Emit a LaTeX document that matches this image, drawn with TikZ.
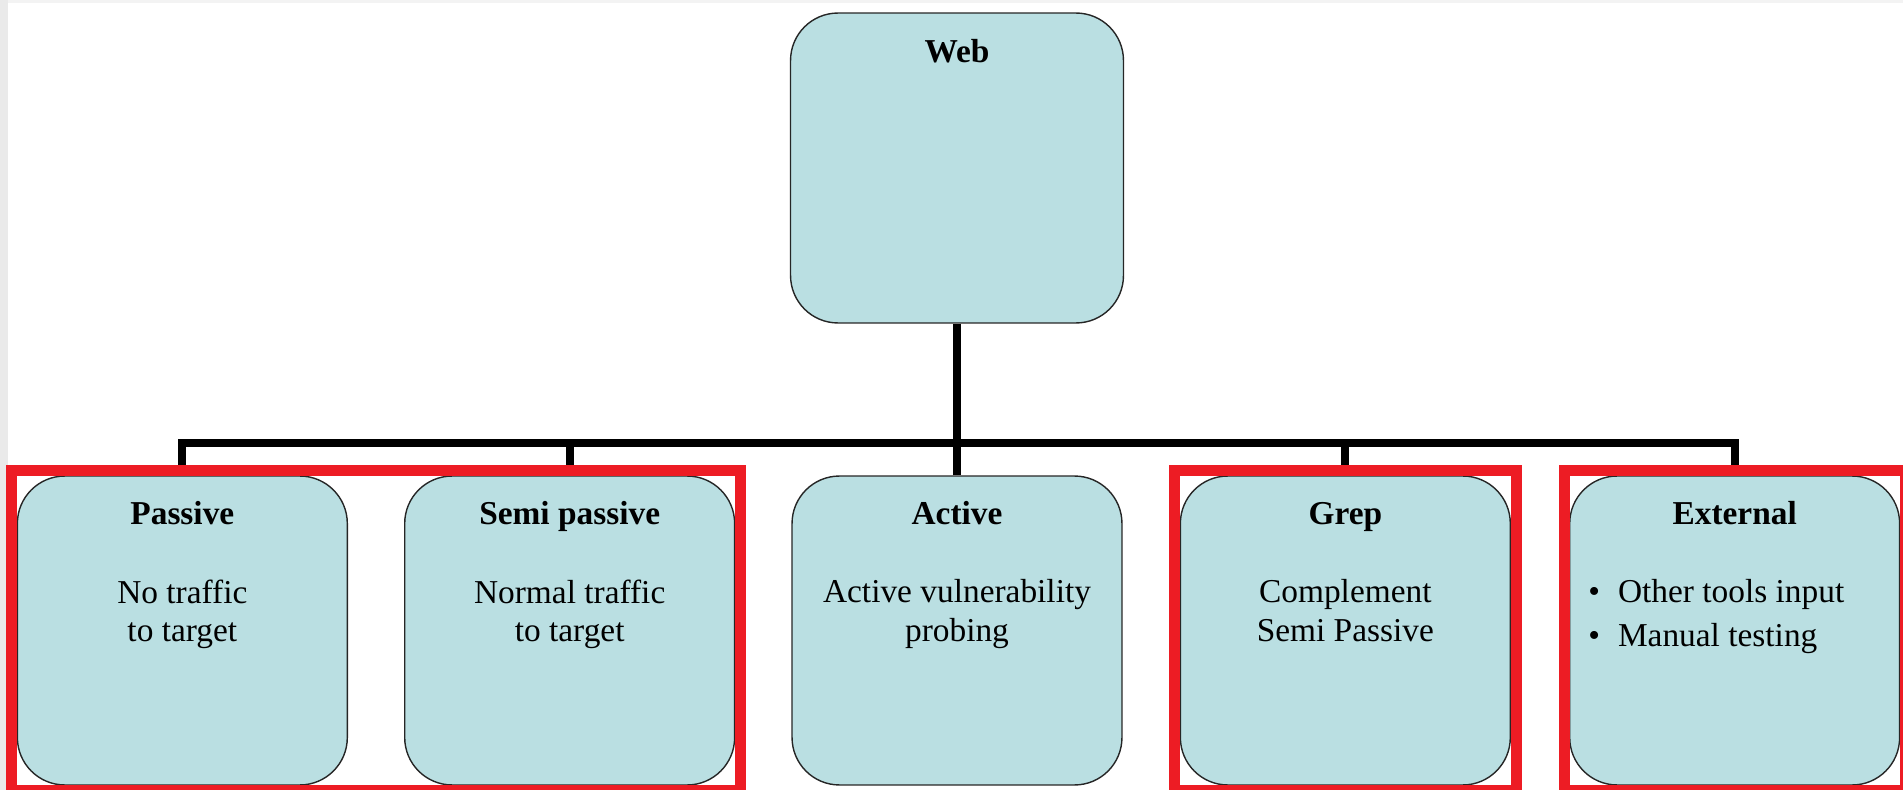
\documentclass[tikz,border=0pt]{standalone}
\usepackage{fontspec}
\setmainfont{Liberation Serif}
\usetikzlibrary{positioning,fit}
\definecolor{boxfill}{RGB}{186,223,226}
\definecolor{markred}{RGB}{237,28,36}
\definecolor{edgegray}{RGB}{234,234,234}
\tikzset{
  box/.style={draw=black!85, line width=0.8pt, fill=boxfill, rounded corners=0.95cm,
    minimum width=6.6cm, minimum height=6.18cm, inner sep=0pt},
  title/.style={font=\fontsize{19}{22}\selectfont\bfseries, inner sep=0pt, anchor=base},
  body/.style={font=\fontsize{19}{22}\selectfont, inner sep=0pt, anchor=north, align=center},
  conn/.style={line width=4.5pt},
  redframe/.style={draw=markred, line width=0.22cm, inner sep=0.1cm}
}
\begin{document}
\begin{tikzpicture}[x=0.02cm,y=-0.02cm]
\useasboundingbox (0,0) rectangle (1903,790);
\fill[edgegray] (0,0) rectangle (8,790);
\fill[edgegray!60] (8,0) rectangle (1903,3);

% boxes
\node[box] (active) at (957,630.5) {};
\node[box, left=1.12cm of active] (semipassive) {};
\node[box, left=1.12cm of semipassive] (passive) {};
\node[box, right=1.14cm of active] (grep) {};
\node[box, right=1.16cm of grep] (external) {};
\node[box, minimum width=6.66cm, minimum height=6.2cm] (web) at (957,168) {};

% connectors
\coordinate (bar) at (957,443);
\draw[conn] (web.south) -- (bar);
\draw[conn] (passive.north) |- (bar) -| (external.north);
\foreach \n in {semipassive,active,grep}
  \draw[conn] (\n.north) -- (\n.north |- bar);

% titles
\node[title] (web-t) at ([yshift=-1.0cm]web.north) {Web};
\foreach \n/\t in {passive/Passive, semipassive/Semi passive, active/Active, grep/Grep, external/External}
  \node[title] (\n-t) at ([yshift=-0.99cm]\n.north) {\t};

% texts
\node[body] (passive-b) at ([yshift=-2.08cm]passive.north) {No traffic\\ to target};
\node[body] (semipassive-b) at ([yshift=-2.08cm]semipassive.north) {Normal traffic\\ to target};
\node[body] (active-b) at ([yshift=-2.08cm]active.north) {Active vulnerability\\ probing};
\node[body] (grep-b) at ([yshift=-2.08cm]grep.north) {Complement\\ Semi Passive};
\node[body, anchor=north west, align=left] (external-b) at ([xshift=0.38cm,yshift=-2.08cm]external.north west)
  {\textbullet\hspace{0.36cm}Other tools input\\[3pt]\textbullet\hspace{0.36cm}Manual testing};

% red highlights
\node[redframe, fit=(passive)(semipassive)] (frame-a) {};
\node[redframe, fit=(grep)] (frame-b) {};
\node[redframe, fit=(external)] (frame-c) {};
\end{tikzpicture}
\end{document}
